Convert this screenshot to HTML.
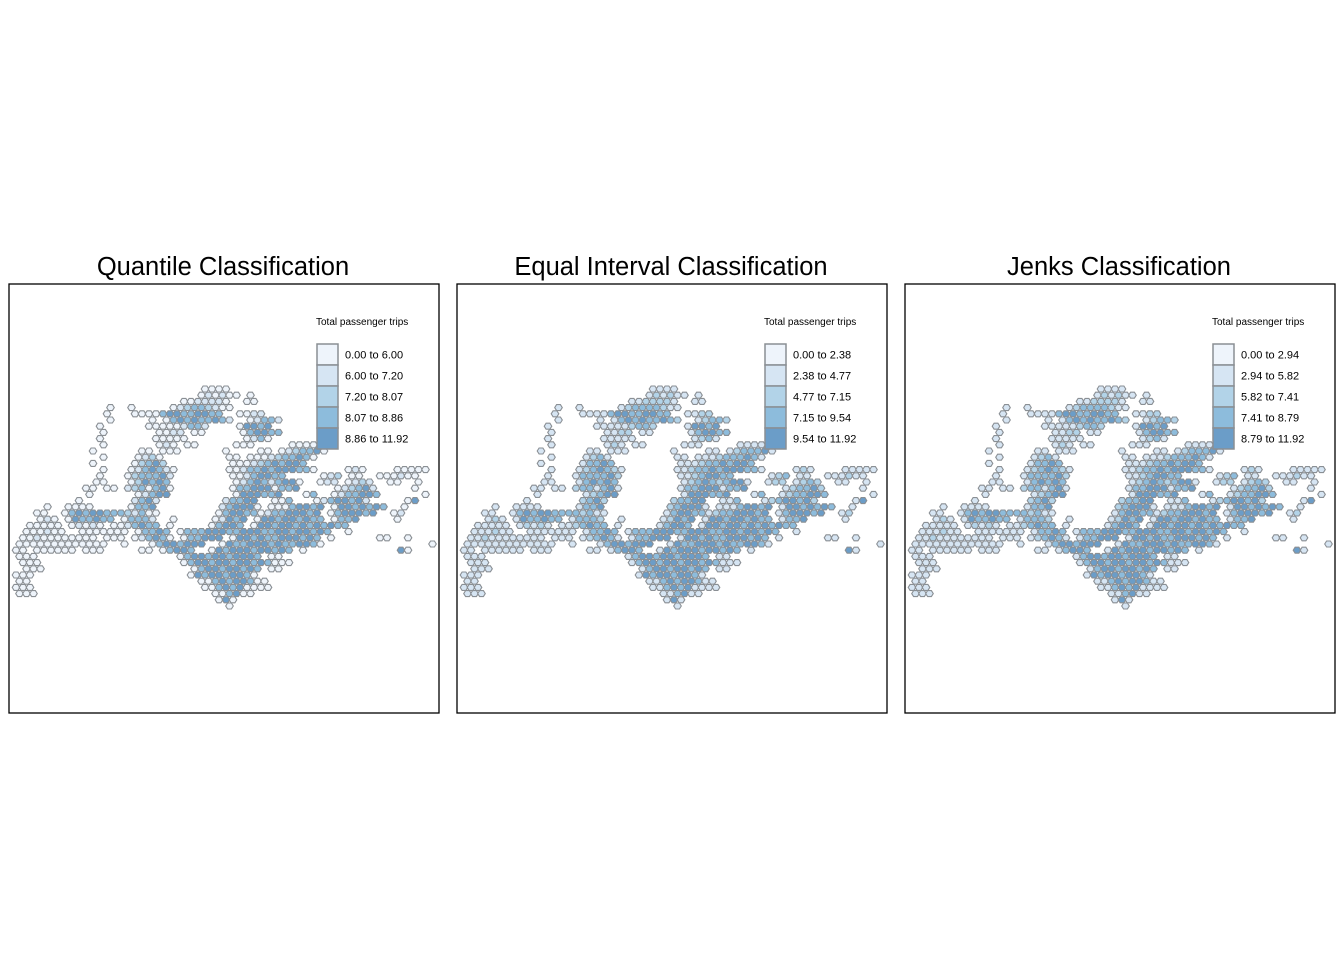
<!DOCTYPE html>
<html><head><meta charset="utf-8"><style>
body{margin:0;background:#fff;font-family:"Liberation Sans",Arial,sans-serif}
svg{display:block}
</style></head><body>
<svg id="c" width="1344" height="960" xmlns="http://www.w3.org/2000/svg"></svg>
<script>
const titles=["Quantile Classification","Equal Interval Classification","Jenks Classification"];
const legendLabels=[
["0.00 to 6.00","6.00 to 7.20","7.20 to 8.07","8.07 to 8.86","8.86 to 11.92"],
["0.00 to 2.38","2.38 to 4.77","4.77 to 7.15","7.15 to 9.54","9.54 to 11.92"],
["0.00 to 2.94","2.94 to 5.82","5.82 to 7.41","7.41 to 8.79","8.79 to 11.92"]];
const breaks=[[6.00,7.20,8.07,8.86],[2.38,4.77,7.15,9.54],[2.94,5.82,7.41,8.79]];
const levelValues=[4.5,6.6,7.6,8.5,9.6];
const palette=["#eef4fb","#d6e5f3","#b2d3e8","#8dbcdc","#6b9dc8"];
const hexRows=[
"27:0000","26:010100 33:0","24:0011110 33:00","13:0 16:0 22:012332100",
"13:0 17:00 19:00 21:344334433 32:0011","13:0 19:0 21:0343433431 33:01331",
"12:0 19:00 21:0001331 32:04434","12:0 20:0011 25:00 32:034433","12:0 20:00000 33:0130",
"12:0 20:010 24:00 31:000 39:0000","11:0 18:00 21:000 30:0 35:00 38:0123340",
"12:0 17:0120 30:00 33:0001233430","11:0 17:02342 31:00012343443",
"12:0 16:0134310 30:0013343444330 47:010 54:00000","12:0 16:0233341 31:00134433 44:012 48:00 52:000100",
"11:00 16:024343 31:0134313440 43:011 47:0121 53:00 57:0","10:00 13:00 16:1230340 31:0334440334 46:012341 57:0",
"10:0 17:01344 31:0444334 41:03 45:0133443 58:0","9:0 17:1341 30:13344 37:003 43:01344341 56:04",
"4:0 7:0000 16:0334 29:134440 36:00034434 45:04434343 55:0",
"3:00 7:03434433321300 29:034433 35:013344434 45:0344434 54:01",
"3:010 7:0433433 15:03331 22:0 28:01434 34:0443443433 45:0334 54:0",
"2:00000 8:01010 14:0013433 22:0 28:03443 34:04434434343433",
"1:000100 9:0000000 17:03343 23:0333444334443344344343 47:0",
"1:00100000000 13:000 17:013430 24:033444 31:0443433444343 45:0 52:00 56:0",
"0:0000000000000 15:0 19:03443444 29:04334443433443 43:0 59:0",
"0:00 3:000000 10:000 18:00 21:03443 28:043444344343 41:0 55:40",
"0:000 23:034434434443 36:00","1:000 24:03443443443430 38:00","1:000 25:0344344343 36:00",
"0:000 25:0434434430","0:00 26:0034344300","0:000 27:00343400 35:00","0:000 28:003400","29:040","30:0"];
const NS="http://www.w3.org/2000/svg";
const svg=document.getElementById('c');
function mk(t,a,p){const e=document.createElementNS(NS,t);for(const k in a)e.setAttribute(k,a[k]);(p||svg).appendChild(e);return e;}
function classify(v,b){let k=0;while(k<b.length&&v>=b[k])k++;return k;}
const colX=c=>16+c*7, rowY=r=>389+r*6.2;
const hexPts=(x,y)=>{let s=[];for(let i=0;i<6;i++){const a=Math.PI/3*i;s.push((x+3.8*Math.cos(a)).toFixed(1)+","+(y+3.5*Math.sin(a)).toFixed(1));}return s.join(" ");};
titles.forEach((t,p)=>{
  const ox=p*448;
  const g=mk('g',{});
  
  
  const tt=mk('text',{x:223+ox,y:275,'text-anchor':'middle','font-size':25.5,fill:'#000'},g);
  tt.textContent=t;
  
  
  const fr=mk('rect',{x:9+ox,y:284,width:430,height:429,fill:'#fff',stroke:'#000','stroke-width':1.3},g);
  
  
  const hg=mk('g',{stroke:'#8a8f94','stroke-width':1.1},g);
  
  
  hexRows.forEach((row,r)=>{
    row.split(' ').forEach(seg=>{
      if(!seg)return;
      const [s,str]=seg.split(':');const st=+s;
      for(let i=0;i<str.length;i++){
        const v=levelValues[+str[i]];
        const k=classify(v,breaks[p]);
        const x=colX(st+i)+(r%2?3.5:0)+ox,y=rowY(r);
        const h=mk('polygon',{points:hexPts(x,y),fill:palette[k]},hg);
        
        
      }
    });
  });
  const lt=mk('text',{x:316+ox,y:325,'font-size':10,fill:'#000'},g);
  lt.textContent="Total passenger trips";
  
  
  legendLabels[p].forEach((lab,i)=>{
    const y=344+i*21;
    const b=mk('rect',{x:317+ox,y:y,width:21,height:21,fill:palette[i],stroke:'#8a8f94','stroke-width':1.5},g);
    
    
    const tx=mk('text',{x:345+ox,y:y+14.5,'font-size':11,fill:'#000'},g);
    tx.textContent=lab;
    
    
  });
});
</script>
</body></html>
